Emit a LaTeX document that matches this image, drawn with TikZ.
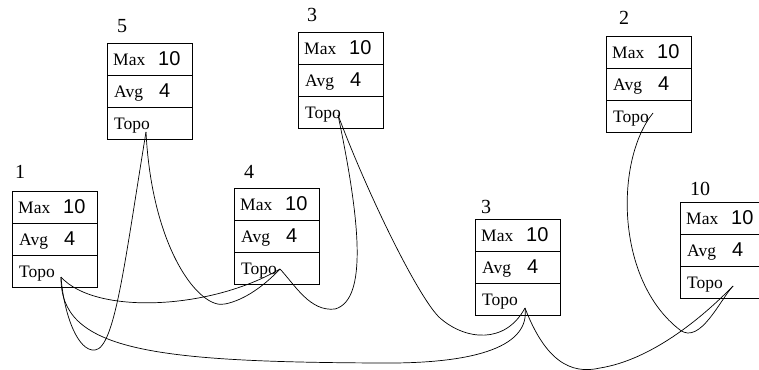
\documentclass[tikz,border=0pt]{standalone}
\usepackage{fontspec}
\setmainfont{Liberation Serif}
\newfontfamily\numfont{Liberation Sans}
\tikzset{
 row/.style={draw, line width=0.8pt, minimum width=85pt, minimum height=32pt, inner sep=0pt, anchor=north west},
 lbl/.style={anchor=base west, inner sep=0pt, font=\fontsize{17.5}{20}\selectfont},
 num/.style={anchor=base west, inner sep=0pt, font=\numfont\fontsize{20}{22}\selectfont},
 head/.style={anchor=base west, inner sep=0pt, font=\fontsize{20}{24}\selectfont},
 link/.style={line width=0.7pt},
}
\newcommand\membox[6]{%
 \node[row] (#1max) at (#2,#3) {};
 \node[row] (#1avg) at (#2,#3+32) {};
 \node[row] (#1topo) at (#2,#3+64) {};
 \node[lbl] (#1maxt) at (#2+6,#3+22) {Max};
 \node[num] (#1maxv) at (#2+51,#3+22) {10};
 \node[lbl] (#1avgt) at (#2+7,#3+54) {Avg};
 \node[num] (#1avgv) at (#2+52,#3+54) {4};
 \node[lbl] (#1topot) at (#2+7,#3+86) {Topo};
 \node[head] (#1head) at (#2+#5,#3-#6) {#4};
}
\begin{document}
\begin{tikzpicture}[x=1pt,y=-1pt]
\useasboundingbox (0,0) rectangle (759,369);
\clip (0,0) rectangle (759,369);
\membox{ba}{12}{191}{1}{3}{13}
\membox{bb}{107}{43}{5}{10}{10}
\membox{bc}{298}{32}{3}{9}{10}
\membox{bd}{606}{36}{2}{13}{11}
\membox{be}{234}{188}{4}{10}{10}
\membox{bf}{475}{219}{3}{6}{6}
\membox{bg}{680}{202}{10}{10}{7}
\coordinate (e1) at (61,277);
\coordinate (e5) at (146,132);
\coordinate (e3a) at (338,115);
\coordinate (e2) at (653,113);
\coordinate (e4) at (280,269);
\coordinate (e3b) at (525,308);
\coordinate (e10) at (733,286);
\draw[link] (e5) .. controls (125,260) and (115,348) .. (95,350) .. controls (78,352) and (64,315) .. (e1);
\draw[link] (e5) .. controls (152,250) and (200,310) .. (225,304) .. controls (245,300) and (265,285) .. (e4);
\draw[link] (e3a) .. controls (360,220) and (368,300) .. (335,309) .. controls (310,312) and (295,285) .. (e4);
\draw[link] (e3a) .. controls (370,200) and (420,300) .. (440,318) .. controls (465,340) and (505,345) .. (e3b);
\draw[link] (e2) .. controls (615,160) and (615,280) .. (680,330) .. controls (700,345) and (720,300) .. (e10);
\draw[link] (e1) .. controls (95,315) and (210,310) .. (e4);
\draw[link] (e1) .. controls (60,350) and (150,362) .. (380,363) .. controls (480,364) and (530,345) .. (e3b);
\draw[link] (e3b) .. controls (545,360) and (570,375) .. (600,368) .. controls (650,360) and (700,320) .. (e10);
\end{tikzpicture}
\end{document}
